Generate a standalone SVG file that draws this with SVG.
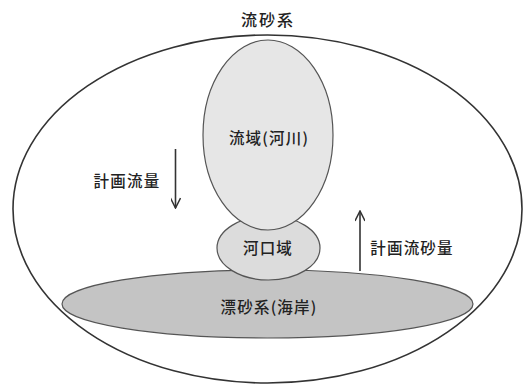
<svg xmlns="http://www.w3.org/2000/svg" width="529" height="385" viewBox="0 0 529 385">
<defs>
<style>
text{font-family:"Noto Sans CJK JP","Noto Sans CJK SC",sans-serif;fill:#222;text-anchor:middle;dominant-baseline:central;font-weight:500}
.t{font-size:15.5px;letter-spacing:1.2px}
.n{stroke:#555;stroke-width:1.2}
.c{stroke:#333;stroke-width:1.6;fill:none}
</style>
<marker id="ah" viewBox="0 0 12 10" refX="11" refY="5" markerWidth="12" markerHeight="10" markerUnits="userSpaceOnUse" orient="auto">
<path d="M1,0 L11,5 L1,10" fill="none" stroke="#333" stroke-width="1.5"/>
</marker>
</defs>
<rect width="529" height="385" fill="#fff"/>
<g id="ryusakei">
<ellipse cx="267.5" cy="209" rx="254.5" ry="174" fill="none" stroke="#333" stroke-width="1.6"/>
<text x="268" y="19" style="font-size:16px;letter-spacing:2px">流砂系</text>
</g>
<g id="hyosakei">
<ellipse class="n" cx="267.5" cy="304" rx="205.5" ry="34" fill="#c4c4c4"/>
<text class="t" x="269" y="306">漂砂系(海岸)</text>
</g>
<g id="kakoiki">
<ellipse class="n" cx="268.5" cy="248" rx="51.5" ry="32" fill="#dcdcdc"/>
<text class="t" x="268" y="247">河口域</text>
</g>
<g id="ryuiki">
<ellipse class="n" cx="268" cy="135" rx="65" ry="95" fill="#e6e6e6"/>
<text class="t" x="269" y="137">流域(河川)</text>
</g>
<g id="connectors">
<line class="c" x1="175.5" y1="149" x2="175.5" y2="208" marker-end="url(#ah)"/>
<line class="c" x1="360" y1="271" x2="360" y2="211" marker-end="url(#ah)"/>
</g>
<g id="labels">
<text class="t" x="127" y="180">計画流量</text>
<text class="t" x="412" y="247">計画流砂量</text>
</g>
</svg>
